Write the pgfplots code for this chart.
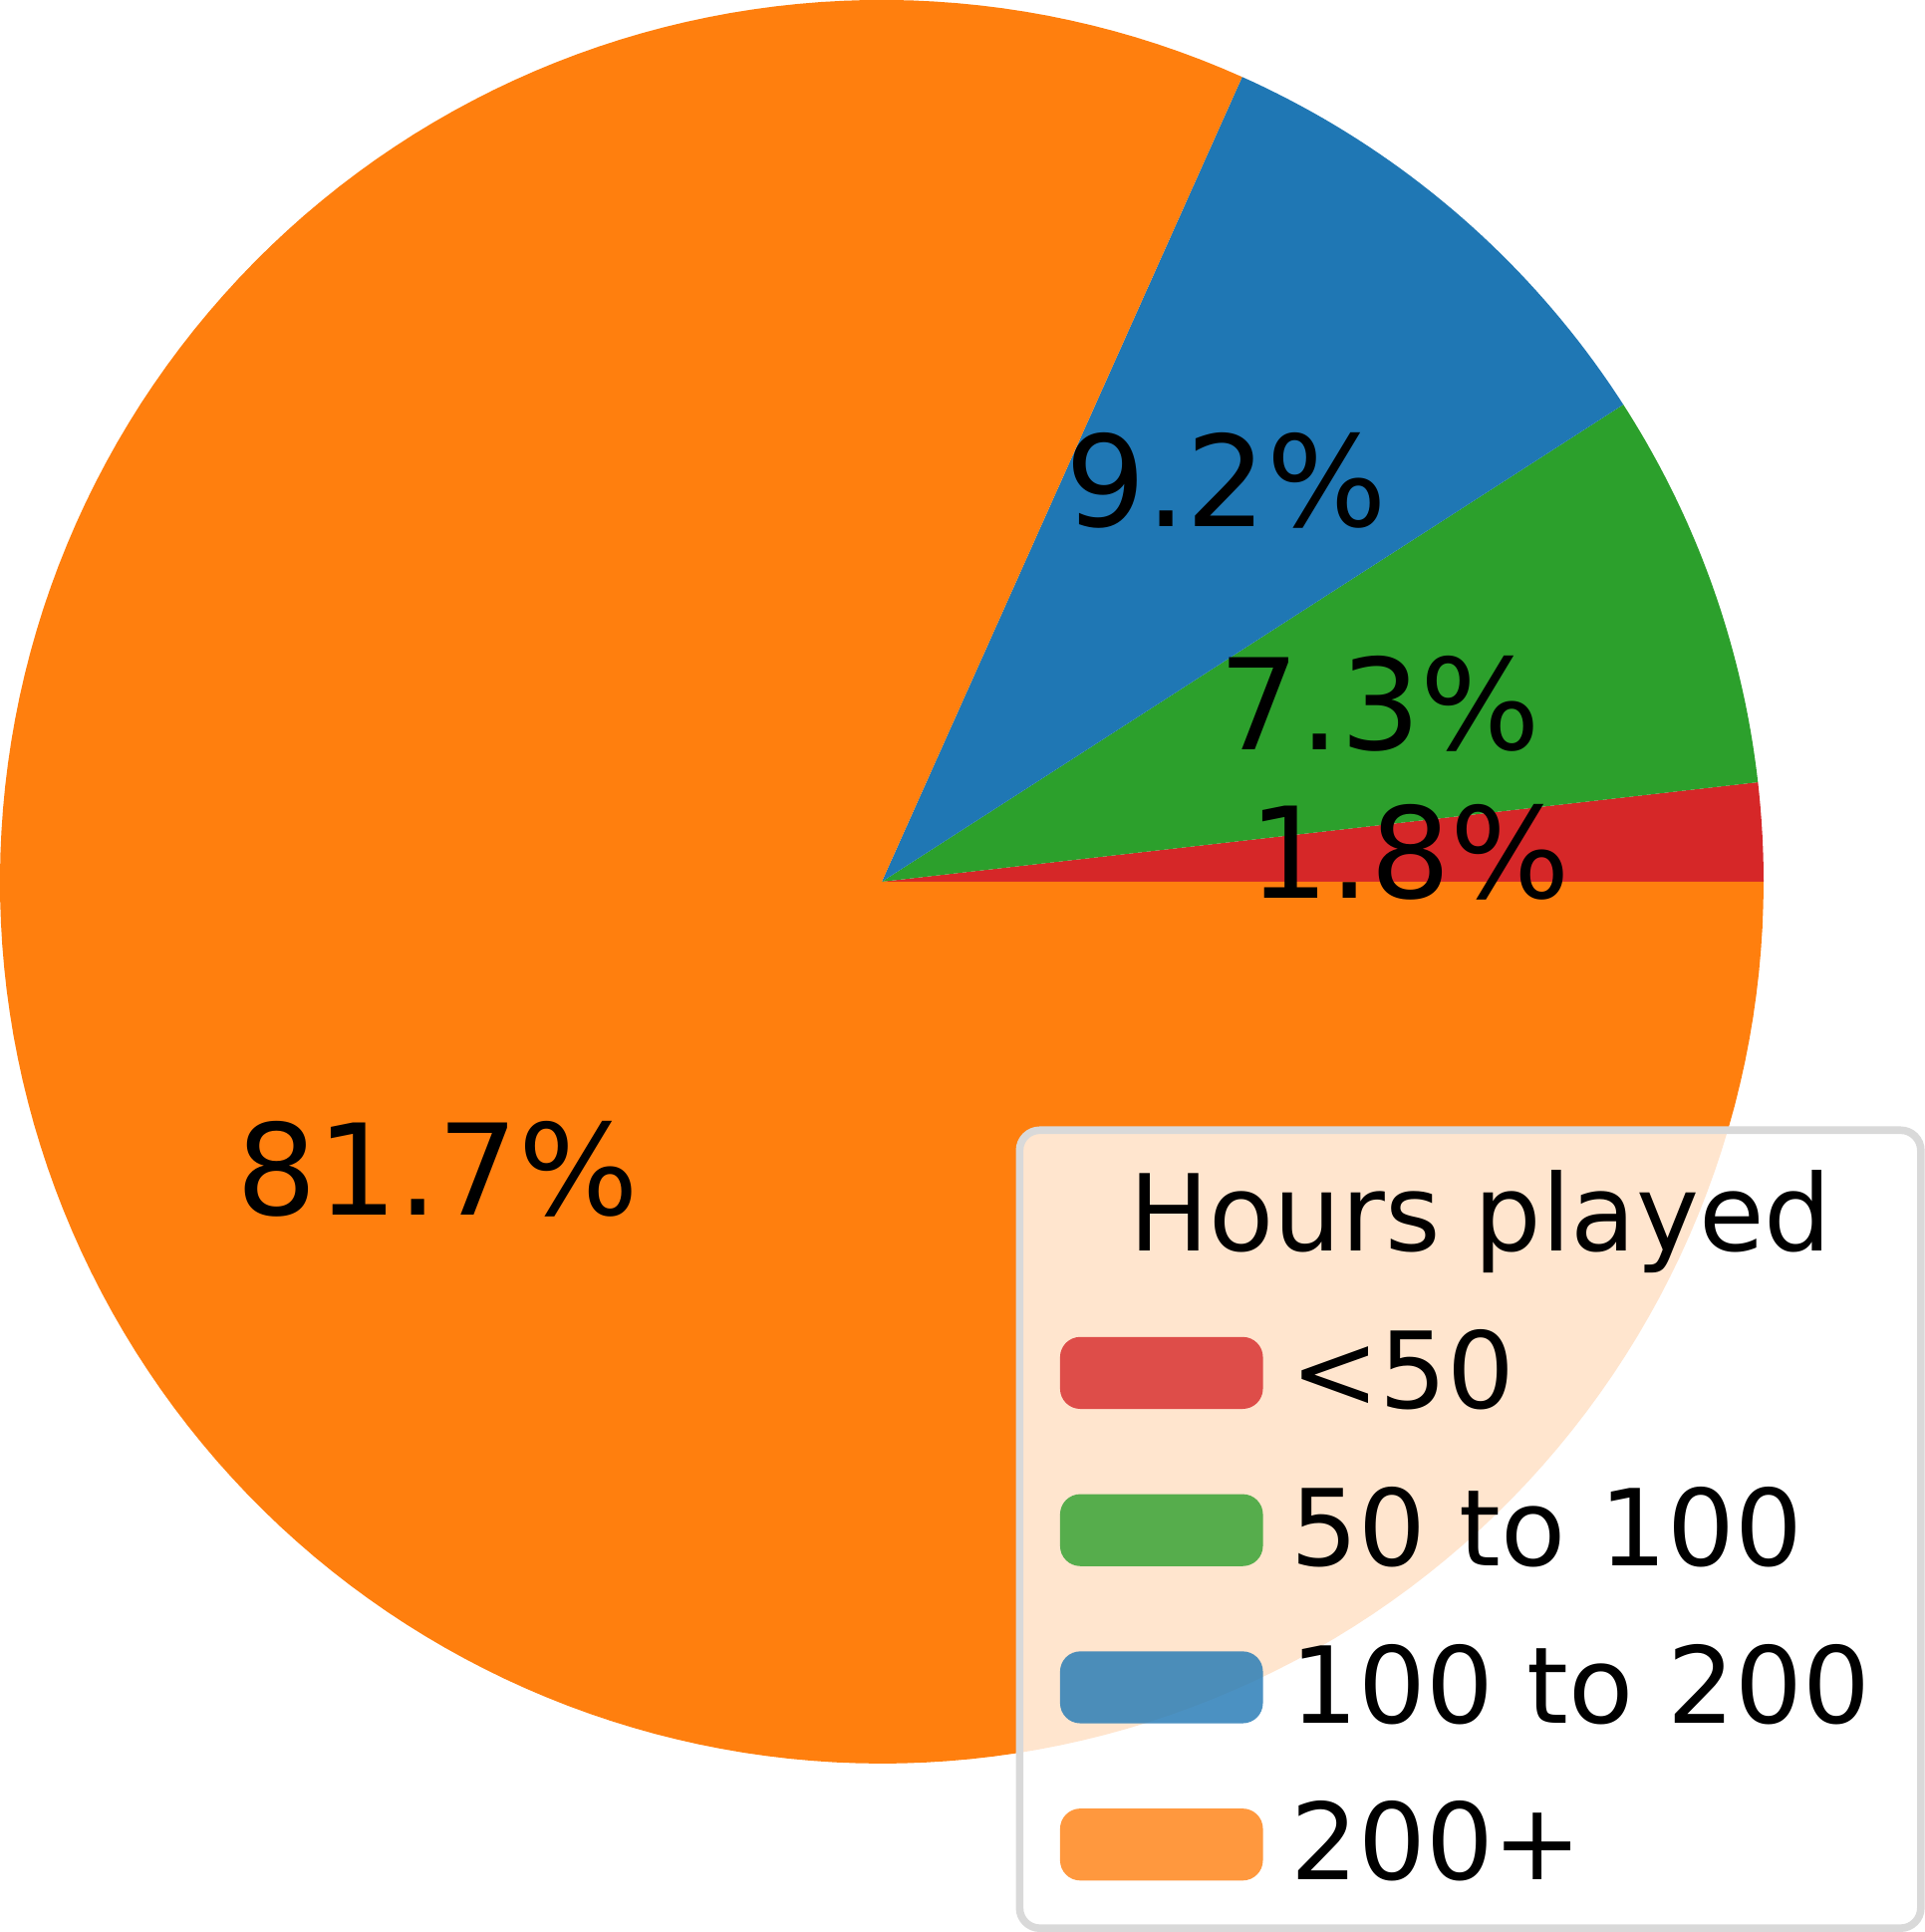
\documentclass[border=0pt]{standalone}
\usepackage{pgfplots}
\pgfplotsset{compat=1.18}
\usepackage{fontspec}
\setmainfont{DejaVu Sans}
\definecolor{cR}{HTML}{D62728}
\definecolor{cG}{HTML}{2CA02C}
\definecolor{cB}{HTML}{1F77B4}
\definecolor{cO}{HTML}{FF7F0E}
% shares (percent)
\def\vA{1.8}\def\vB{7.3}\def\vC{9.2}\def\vD{81.7}
\begin{document}
\begin{tikzpicture}
\pgfmathsetmacro{\aA}{3.6*\vA}
\pgfmathsetmacro{\aB}{\aA+3.6*\vB}
\pgfmathsetmacro{\aC}{\aB+3.6*\vC}
\pgfmathsetmacro{\aD}{\aC+3.6*\vD}
\pgfmathsetmacro{\xA}{0.6*cos(\aA/2)}\pgfmathsetmacro{\yA}{0.6*sin(\aA/2)}
\pgfmathsetmacro{\xB}{0.6*cos((\aA+\aB)/2)}\pgfmathsetmacro{\yB}{0.6*sin((\aA+\aB)/2)}
\pgfmathsetmacro{\xC}{0.6*cos((\aB+\aC)/2)}\pgfmathsetmacro{\yC}{0.6*sin((\aB+\aC)/2)}
\pgfmathsetmacro{\xD}{0.6*cos((\aC+\aD)/2)}\pgfmathsetmacro{\yD}{0.6*sin((\aC+\aD)/2)}
\begin{axis}[
  width=16.4cm, height=16.4cm, scale only axis, hide axis,
  xmin=-1.338, xmax=1.338, ymin=-1.338, ymax=1.338,
  trig format plots=deg,
  legend style={at={(axis cs:0.152,-1.191)}, anchor=south west,
    fill=white, fill opacity=0.8, text opacity=1, draw opacity=1,
    draw=black!15, line width=1.5pt, rounded corners=4pt,
    font=\fontsize{21}{25}\selectfont, row sep=10pt,
    inner xsep=8pt, inner ysep=6pt},
  legend cell align=left,
  legend image code/.code={\fill[#1] (0cm,-0.25cm) rectangle (1.41cm,0.25cm);},
]
\addlegendimage{empty legend}
\addlegendentry{\hspace{-1.0cm}Hours played}
\addplot[fill=cR, draw=none, domain=0:\aA, samples=20] ({cos(x)},{sin(x)}) -- (axis cs:0,0) -- cycle;
\addlegendentry{\,<50}
\addplot[fill=cG, draw=none, domain=\aA:\aB, samples=40] ({cos(x)},{sin(x)}) -- (axis cs:0,0) -- cycle;
\addlegendentry{\,50 to 100}
\addplot[fill=cB, draw=none, domain=\aB:\aC, samples=40] ({cos(x)},{sin(x)}) -- (axis cs:0,0) -- cycle;
\addlegendentry{\,100 to 200}
\addplot[fill=cO, draw=none, domain=\aC:\aD, samples=200] ({cos(x)},{sin(x)}) -- (axis cs:0,0) -- cycle;
\addlegendentry{\,200+}
\node[font=\fontsize{25}{30}\selectfont] at (axis cs:\xA,\yA) {\vA\%};
\node[font=\fontsize{25}{30}\selectfont] at (axis cs:\xB,\yB) {\vB\%};
\node[font=\fontsize{25}{30}\selectfont] at (axis cs:\xC,\yC) {\vC\%};
\node[font=\fontsize{25}{30}\selectfont] at (axis cs:\xD,\yD) {\vD\%};
\end{axis}
\end{tikzpicture}
\end{document}
